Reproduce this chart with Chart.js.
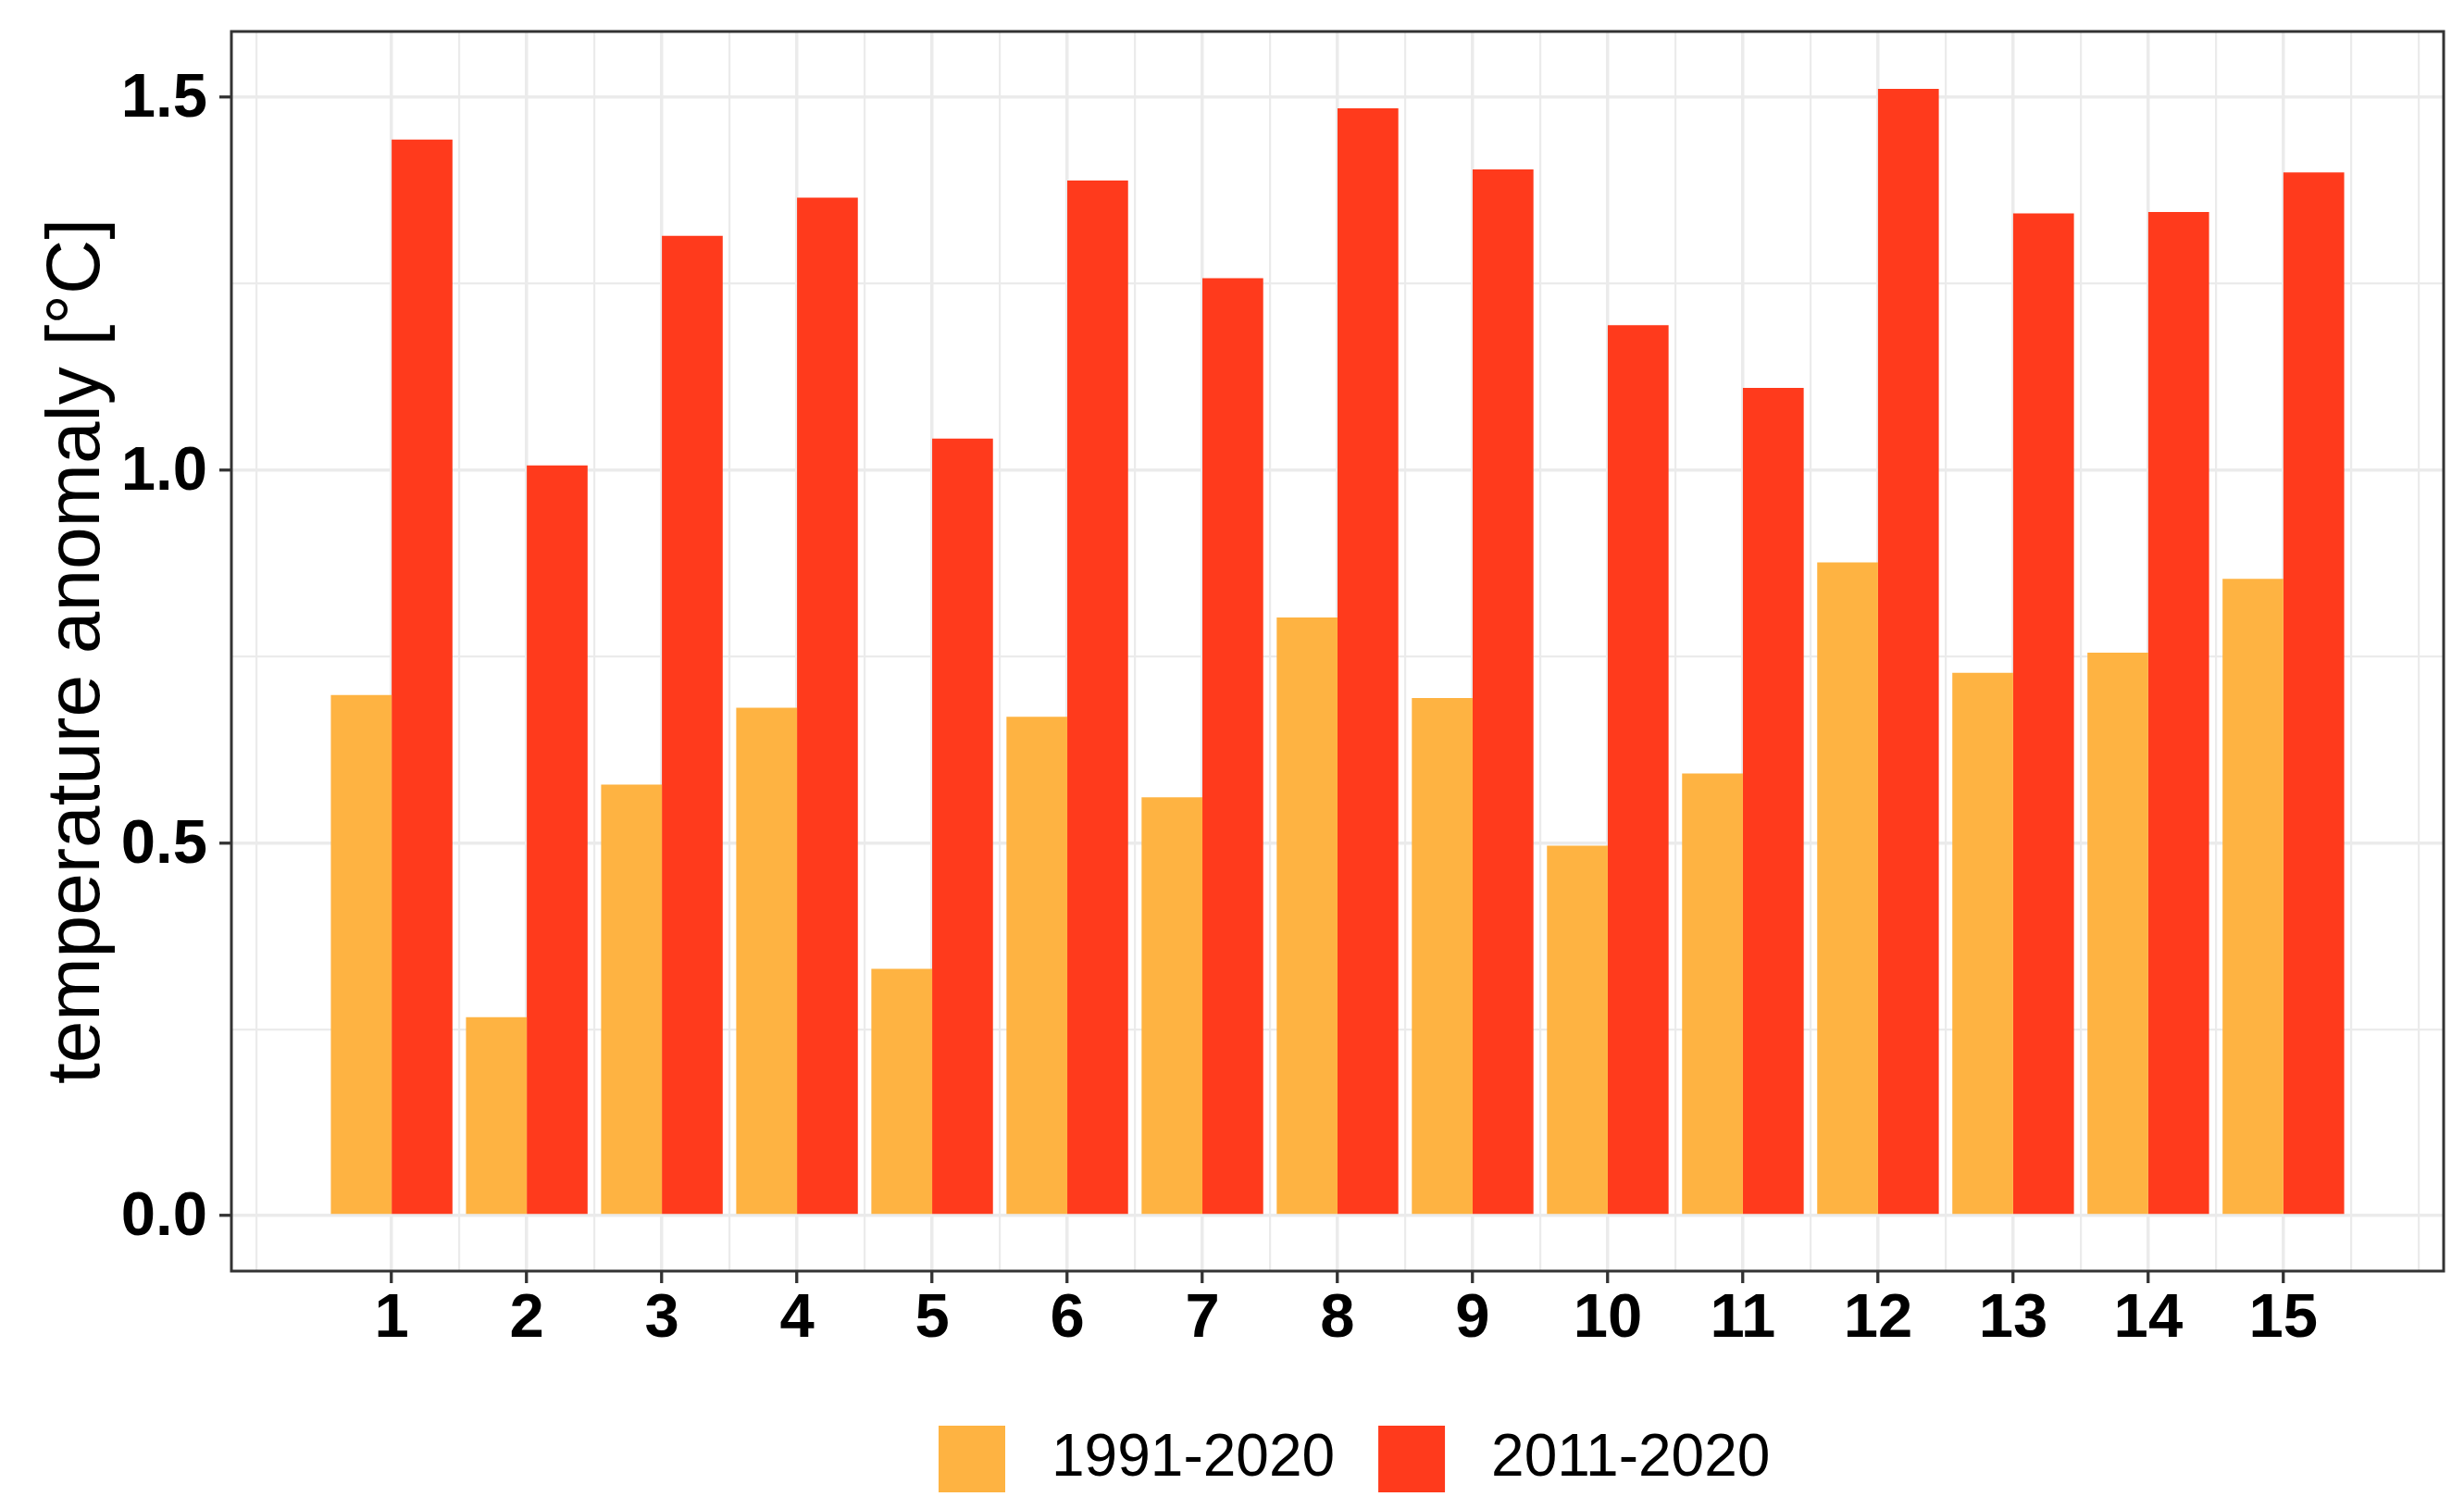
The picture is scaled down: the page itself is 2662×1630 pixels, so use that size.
<!DOCTYPE html>
<html>
<head>
<meta charset="utf-8">
<script src="https://cdn.jsdelivr.net/npm/chart.js@4.4.1/dist/chart.umd.min.js"></script>
<style>
  html, body { margin: 0; padding: 0; background: #ffffff; }
  #wrap { width: 2662px; height: 1630px; }
</style>
</head>
<body>
<div id="wrap"><canvas id="anomalyChart" width="2662" height="1630"></canvas></div>
<script>
const categories = ['1', '2', '3', '4', '5', '6', '7', '8', '9', '10', '11', '12', '13', '14', '15'];
const anomaly1991 = [0.698, 0.266, 0.578, 0.681, 0.331, 0.669, 0.561, 0.802, 0.694, 0.496, 0.593, 0.876, 0.728, 0.755, 0.854];
const anomaly2011 = [1.443, 1.006, 1.314, 1.365, 1.042, 1.388, 1.257, 1.485, 1.403, 1.194, 1.110, 1.511, 1.344, 1.346, 1.399];
const seriesLabels = ['1991-2020', '2011-2020'];
const yTickValues = [0, 0.5, 1.0, 1.5];
const yTickLabels = ['0.0', '0.5', '1.0', '1.5'];

const FONT = "'Liberation Sans', Arial, sans-serif";
const GRID = '#EBEBEB';
const DARK = '#333333';

// minor grid positions sit halfway between the labelled ones
const xValues = categories.map(Number);
const xMinor = [xValues[0] - 1];
xValues.forEach(v => xMinor.push(v + 0.5));
xMinor.push(xValues[xValues.length - 1] + 1);
const yGrid = [];
yTickValues.forEach((v, i) => {
  yGrid.push(v);
  if (i < yTickValues.length - 1) yGrid.push((v + yTickValues[i + 1]) / 2);
});

Chart.defaults.font.family = FONT;

const panelBorder = {
  id: 'panelBorder',
  afterLayout(chart) {
    // put the legend where ggplot had it
    const lg = chart.legend;
    const pad = lg.options.labels.padding;
    const startX = (lg.left + pad + lg.right - lg.lineWidths[0]) / 2;
    const dx = (1014 - 18) - startX;
    lg.left += dx; lg.right += dx;
    const dy = (1540 - 18 - pad) - lg.top;
    lg.top += dy; lg.bottom += dy;
  },
  afterDraw(chart) {
    const {ctx, chartArea: a} = chart;
    ctx.save();
    ctx.strokeStyle = DARK;
    ctx.lineWidth = 3;
    ctx.strokeRect(a.left, a.top, a.right - a.left, a.bottom - a.top);
    ctx.restore();
  }
};

const ctx = document.getElementById('anomalyChart').getContext('2d');
const chart = new Chart(ctx, {
  type: 'bar',
  data: {
    datasets: [{
      label: seriesLabels[0],
      data: categories.map((c, i) => ({x: Number(c), y: anomaly1991[i]})),
      backgroundColor: '#FEB342',
      borderWidth: 0,
      categoryPercentage: 0.9,
      barPercentage: 1.0,
      xAxisID: 'x',
      yAxisID: 'y'
    }, {
      label: seriesLabels[1],
      data: categories.map((c, i) => ({x: Number(c), y: anomaly2011[i]})),
      backgroundColor: '#FF3A1C',
      borderWidth: 0,
      categoryPercentage: 0.9,
      barPercentage: 1.0,
      xAxisID: 'x',
      yAxisID: 'y'
    }]
  },
  options: {
    responsive: false,
    animation: false,
    devicePixelRatio: 1,
    layout: { padding: { top: 34, right: 22, bottom: 0, left: 0 } },
    scales: {
      x: {
        type: 'linear',
        min: -0.186,
        max: 16.186,
        offset: false,
        afterBuildTicks: s => { s.ticks = xValues.map(v => ({value: v})); },
        afterFit: s => { s.height = 110; s.paddingLeft = 0; s.paddingRight = 0; },
        border: { display: false },
        grid: { offset: false, color: GRID, lineWidth: 3.5, tickLength: 13, tickColor: DARK, tickWidth: 3.3 },
        ticks: {
          autoSkip: false, maxRotation: 0, padding: 6, color: '#000',
          font: { size: 67, weight: 'bold', lineHeight: 1 },
          callback: v => categories[xValues.indexOf(v)]
        }
      },
      xMinor: {
        axis: 'x',
        type: 'linear',
        position: 'bottom',
        min: -0.186,
        max: 16.186,
        offset: false,
        afterBuildTicks: s => { s.ticks = xMinor.map(v => ({value: v})); },
        afterFit: s => { s.height = 0; s.paddingLeft = 0; s.paddingRight = 0; },
        border: { display: false },
        grid: { offset: false, color: GRID, lineWidth: 2.2, drawTicks: false },
        ticks: { display: false }
      },
      y: {
        type: 'linear',
        min: -0.0745,
        max: 1.588,
        afterBuildTicks: s => { s.ticks = yGrid.map(v => ({value: v})); },
        afterFit: s => { s.width = 250; s.paddingTop = 0; s.paddingBottom = 0; },
        border: { display: false },
        grid: {
          color: GRID,
          lineWidth: c => yTickValues.includes(c.tick.value) ? 3.5 : 2.2,
          tickLength: 13,
          tickColor: c => yTickValues.includes(c.tick.value) ? DARK : 'rgba(0,0,0,0)',
          tickWidth: 3.3
        },
        ticks: {
          padding: 13, labelOffset: 3, color: '#000',
          font: { size: 67, weight: 'bold', lineHeight: 1 },
          callback: v => { const i = yTickValues.indexOf(v); return i >= 0 ? yTickLabels[i] : ''; }
        },
        title: {
          display: true,
          text: 'temperature anomaly [°C]',
          color: '#000',
          font: { size: 82, lineHeight: 1 },
          padding: { top: 43, bottom: 0 }
        }
      }
    },
    plugins: {
      tooltip: { enabled: false },
      legend: {
        position: 'bottom',
        fullSize: false,
        align: 'center',
        labels: {
          boxWidth: 108,
          boxHeight: 108,
          padding: 29,
          color: '#000',
          font: { size: 64 },
          generateLabels: ch => ch.data.datasets.map((ds, i) => ({
            text: ds.label,
            fillStyle: ds.backgroundColor,
            strokeStyle: '#ffffff',
            lineWidth: 36,
            hidden: false,
            datasetIndex: i
          }))
        }
      }
    }
  },
  plugins: [panelBorder]
});
</script>
</body>
</html>
